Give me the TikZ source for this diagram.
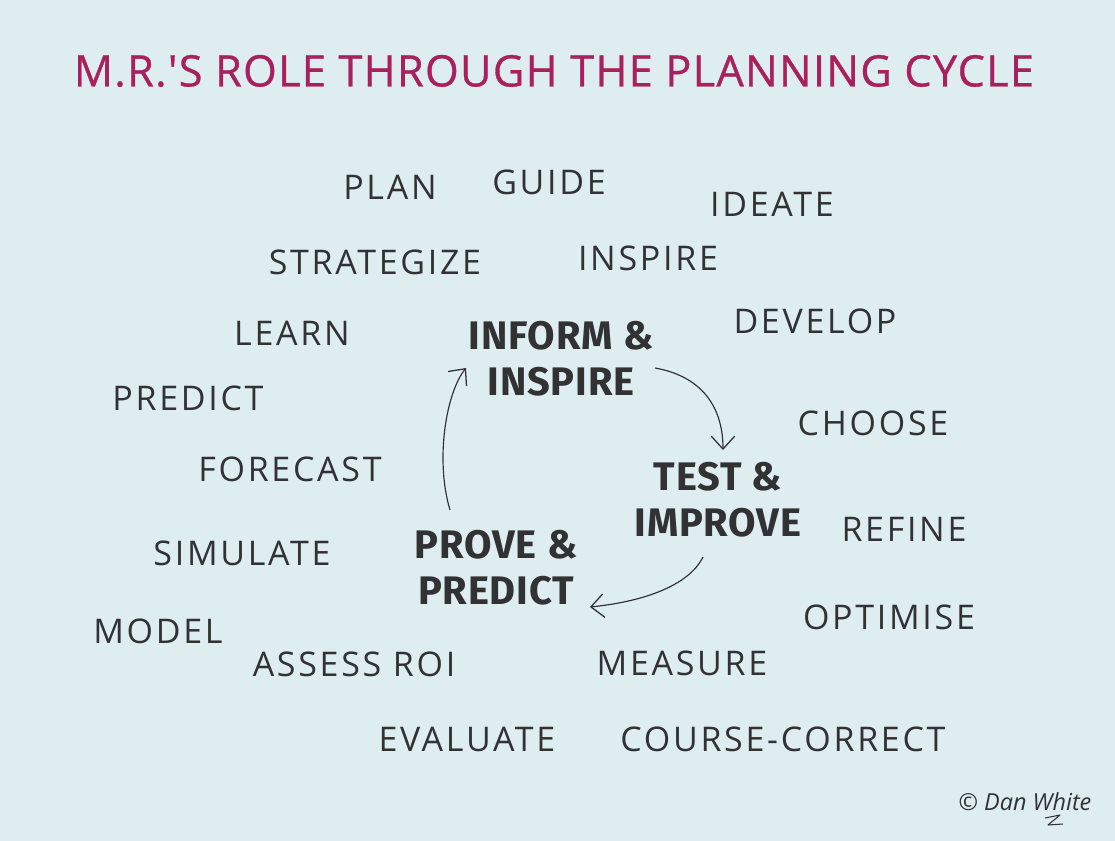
\documentclass[tikz,border=0pt]{standalone}
\usepackage{fontspec}
\setmainfont{Open Sans}
\newfontfamily\wordfont[LetterSpace=8]{Open Sans}
\newfontfamily\boldfont[LetterSpace=2]{Fira Sans Bold}
\newfontfamily\titlefont[LetterSpace=2.9,FakeBold=0.7]{Open Sans}
\newfontfamily\sigfont{Open Sans Italic}
\usetikzlibrary{arrows.meta}
\definecolor{bg}{RGB}{222,238,240}
\definecolor{ink}{RGB}{50,50,52}
\definecolor{titlec}{RGB}{168,32,92}
\tikzset{
  word/.style={text=ink,font=\wordfont\fontsize{29}{34}\selectfont,inner sep=1pt},
  core/.style={text=ink,font=\boldfont\fontsize{34}{39}\selectfont,align=center,inner sep=2pt},
  cyclearrow/.style={draw=ink,line width=1pt,-{Straight Barb[length=11pt,width=20pt,line width=1.1pt]}},
}
\begin{document}
\begin{tikzpicture}[x=0.03cm,y=-0.03cm]
\fill[bg] (0,0) rectangle (1115,841);
\useasboundingbox (0,0) rectangle (1115,841);
\node[text=titlec,font=\titlefont\fontsize{37}{40}\selectfont,inner sep=0pt] (title) at (554,71) {M.R.'S ROLE THROUGH THE PLANNING CYCLE};
% outer words
\node[word] (plan) at (390,187) {PLAN};
\node[word] (guide) at (549,182) {GUIDE};
\node[word] (ideate) at (772,204) {IDEATE};
\node[word] (strategize) at (375,262) {STRATEGIZE};
\node[word] (inspirew) at (648,258) {INSPIRE};
\node[word] (learn) at (292,333) {LEARN};
\node[word] (develop) at (815,321) {DEVELOP};
\node[word] (predictw) at (188,398) {PREDICT};
\node[word] (choose) at (873,423) {CHOOSE};
\node[word] (forecast) at (290,469) {FORECAST};
\node[word] (simulate) at (242,553) {SIMULATE};
\node[word] (refine) at (904,529) {REFINE};
\node[word] (optimise) at (889,617) {OPTIMISE};
\node[word] (model) at (158,631) {MODEL};
\node[word] (assess) at (354,664) {ASSESS ROI};
\node[word] (measure) at (682,663) {MEASURE};
\node[word] (evaluate) at (467,739) {EVALUATE};
\node[word] (course) at (783,739) {COURSE-CORRECT};
% core
\node[core] (inform) at (561,359) {INFORM \&\\INSPIRE};
\node[core] (test) at (718,500) {TEST \&\\IMPROVE};
\node[core] (prove) at (496,568) {PROVE \&\\PREDICT};
% arrows
\draw[cyclearrow] ([shift={(94,9)}]inform.center) .. controls +(45,8) and +(0,-45) .. ([shift={(5,-50)}]test.center);
\draw[cyclearrow] ([shift={(-15,57)}]test.center) .. controls +(-15,30) and +(50,-5) .. ([shift={(94,39)}]prove.center);
\draw[cyclearrow] ([shift={(-46,-58)}]prove.center) .. controls +(-15,-50) and +(-20,25) .. ([shift={(-95,9)}]inform.center);
% signature
\node[text=ink,font=\sigfont\fontsize{20}{22}\selectfont,inner sep=0pt] (sig) at (1025,802) {\textcopyright\ Dan White};
\draw[ink,line width=0.9pt,line join=round] ([shift={(20,16)}]sig.center) -- ++(15,-3) -- ++(-12,10) -- ++(15,-1);
\end{tikzpicture}
\end{document}
